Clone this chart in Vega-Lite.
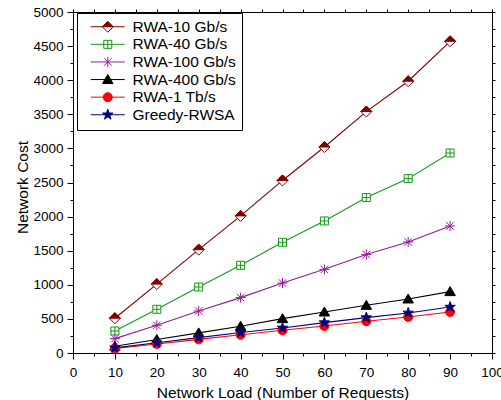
{
  "$schema": "https://vega.github.io/schema/vega-lite/v6.json",
  "width": 419,
  "height": 341,
  "autosize": {"type": "none"},
  "padding": {"left": 73, "top": 12, "right": 9, "bottom": 47},
  "background": "white",
  "config": {
    "view": {"stroke": null},
    "font": "Liberation Sans",
    "axis": {
      "domainColor": "#000000", "tickColor": "#000000", "labelColor": "#000000", "titleColor": "#000000",
      "labelFont": "Liberation Sans", "titleFont": "Liberation Sans",
      "labelFontSize": 13.5, "titleFontSize": 15.5, "titleFontWeight": "normal",
      "grid": false, "tickWidth": 1, "domainWidth": 1
    },
    "legend": {
      "orient": "none", "legendX": 4, "legendY": 1,
      "strokeColor": "#000000", "fillColor": "#ffffff", "cornerRadius": 0,
      "padding": 6, "rowPadding": 0.6, "symbolOffset": 17, "labelOffset": 17,
      "labelFont": "Liberation Sans", "labelFontSize": 15.5, "labelColor": "#000000", "labelLimit": 0,
      "symbolSize": 100, "symbolStrokeWidth": 1, "title": null
    },
    "point": {"size": 100, "strokeWidth": 1, "opacity": 1, "filled": true}
  },
  "data": {"values": [
    {"series": "RWA-10 Gb/s", "load": 10, "cost": 510},
    {"series": "RWA-10 Gb/s", "load": 20, "cost": 1010},
    {"series": "RWA-10 Gb/s", "load": 30, "cost": 1515},
    {"series": "RWA-10 Gb/s", "load": 40, "cost": 2010},
    {"series": "RWA-10 Gb/s", "load": 50, "cost": 2530},
    {"series": "RWA-10 Gb/s", "load": 60, "cost": 3020},
    {"series": "RWA-10 Gb/s", "load": 70, "cost": 3540},
    {"series": "RWA-10 Gb/s", "load": 80, "cost": 3985},
    {"series": "RWA-10 Gb/s", "load": 90, "cost": 4570},
    {"series": "RWA-40 Gb/s", "load": 10, "cost": 323},
    {"series": "RWA-40 Gb/s", "load": 20, "cost": 641},
    {"series": "RWA-40 Gb/s", "load": 30, "cost": 968},
    {"series": "RWA-40 Gb/s", "load": 40, "cost": 1286},
    {"series": "RWA-40 Gb/s", "load": 50, "cost": 1623},
    {"series": "RWA-40 Gb/s", "load": 60, "cost": 1936},
    {"series": "RWA-40 Gb/s", "load": 70, "cost": 2279},
    {"series": "RWA-40 Gb/s", "load": 80, "cost": 2557},
    {"series": "RWA-40 Gb/s", "load": 90, "cost": 2933},
    {"series": "RWA-100 Gb/s", "load": 10, "cost": 211},
    {"series": "RWA-100 Gb/s", "load": 20, "cost": 406},
    {"series": "RWA-100 Gb/s", "load": 30, "cost": 616},
    {"series": "RWA-100 Gb/s", "load": 40, "cost": 812},
    {"series": "RWA-100 Gb/s", "load": 50, "cost": 1026},
    {"series": "RWA-100 Gb/s", "load": 60, "cost": 1227},
    {"series": "RWA-100 Gb/s", "load": 70, "cost": 1443},
    {"series": "RWA-100 Gb/s", "load": 80, "cost": 1628},
    {"series": "RWA-100 Gb/s", "load": 90, "cost": 1862},
    {"series": "RWA-400 Gb/s", "load": 10, "cost": 100},
    {"series": "RWA-400 Gb/s", "load": 20, "cost": 198},
    {"series": "RWA-400 Gb/s", "load": 30, "cost": 295},
    {"series": "RWA-400 Gb/s", "load": 40, "cost": 392},
    {"series": "RWA-400 Gb/s", "load": 50, "cost": 504},
    {"series": "RWA-400 Gb/s", "load": 60, "cost": 601},
    {"series": "RWA-400 Gb/s", "load": 70, "cost": 699},
    {"series": "RWA-400 Gb/s", "load": 80, "cost": 792},
    {"series": "RWA-400 Gb/s", "load": 90, "cost": 900},
    {"series": "RWA-1 Tb/s", "load": 10, "cost": 67},
    {"series": "RWA-1 Tb/s", "load": 20, "cost": 133},
    {"series": "RWA-1 Tb/s", "load": 30, "cost": 200},
    {"series": "RWA-1 Tb/s", "load": 40, "cost": 267},
    {"series": "RWA-1 Tb/s", "load": 50, "cost": 333},
    {"series": "RWA-1 Tb/s", "load": 60, "cost": 396},
    {"series": "RWA-1 Tb/s", "load": 70, "cost": 465},
    {"series": "RWA-1 Tb/s", "load": 80, "cost": 528},
    {"series": "RWA-1 Tb/s", "load": 90, "cost": 601},
    {"series": "Greedy-RWSA", "load": 10, "cost": 75},
    {"series": "Greedy-RWSA", "load": 20, "cost": 150},
    {"series": "Greedy-RWSA", "load": 30, "cost": 225},
    {"series": "Greedy-RWSA", "load": 40, "cost": 300},
    {"series": "Greedy-RWSA", "load": 50, "cost": 367},
    {"series": "Greedy-RWSA", "load": 60, "cost": 446},
    {"series": "Greedy-RWSA", "load": 70, "cost": 519},
    {"series": "Greedy-RWSA", "load": 80, "cost": 587},
    {"series": "Greedy-RWSA", "load": 90, "cost": 674}
  ]},
  "layer": [
    {
      "mark": {"type": "line", "strokeWidth": 1.1},
      "encoding": {
        "x": {"field": "load", "type": "quantitative", "scale": {"domain": [0, 100], "nice": false},
          "axis": {"orient": "bottom", "values": [0,5,10,15,20,25,30,35,40,45,50,55,60,65,70,75,80,85,90,95,100],
            "labelExpr": "datum.value % 10 === 0 ? datum.label : ''",
            "tickSize": {"condition": {"test": "datum.value % 10 === 0", "value": 6}, "value": 3},
            "labelPadding": 6, "labelOverlap": false, "labelFlush": false,
            "title": "Network Load (Number of Requests)", "titlePadding": 7}},
        "y": {"field": "cost", "type": "quantitative", "scale": {"domain": [0, 5000], "nice": false},
          "axis": {"orient": "left", "values": [0,250,500,750,1000,1250,1500,1750,2000,2250,2500,2750,3000,3250,3500,3750,4000,4250,4500,4750,5000],
            "format": "d",
            "labelExpr": "datum.value % 500 === 0 ? datum.label : ''",
            "tickSize": {"condition": {"test": "datum.value % 500 === 0", "value": 6}, "value": 3},
            "labelPadding": 4, "labelOverlap": false, "labelFlush": false,
            "title": "Network Cost", "titlePadding": 2, "titleY": 175}},
        "stroke": {"field": "series", "type": "nominal",
          "scale": {"domain": ["RWA-10 Gb/s", "RWA-40 Gb/s", "RWA-100 Gb/s", "RWA-400 Gb/s", "RWA-1 Tb/s", "Greedy-RWSA"],
            "range": ["#800000", "#139a13", "#941b9b", "#000000", "#ff0000", "#000080"]},
          "legend": {"orient": "none", "legendX": 4, "legendY": 1, "title": null,
            "encoding": {"symbols": {
              "shape": {"value": {"expr": "datum.value === 'RWA-10 Gb/s' ? 'M-3.4,0L3.4,0M0,-1.1L1.1,0L0,1.1L-1.1,0Z' : datum.value === 'RWA-40 Gb/s' ? 'M-3.4,0L3.4,0M-0.8,-0.8L0.8,-0.8L0.8,0.8L-0.8,0.8ZM0,-0.8L0,0.8' : datum.value === 'RWA-100 Gb/s' ? 'M-3.4,0L3.4,0M0,-1L0,1M-0.75,-0.75L0.75,0.75M-0.75,0.75L0.75,-0.75' : datum.value === 'RWA-400 Gb/s' ? 'M-3.4,0L3.4,0M0,-1L1.05,0.8L-1.05,0.8Z' : datum.value === 'RWA-1 Tb/s' ? 'M-3.4,0L3.4,0M0.9,0A0.9,0.9 0 1,1 -0.9,0A0.9,0.9 0 1,1 0.9,0Z' : 'M-3.4,0L3.4,0M0,-1.1L0.259,-0.356L1.046,-0.34L0.418,0.136L0.647,0.89L0,0.44L-0.647,0.89L-0.418,0.136L-1.046,-0.34L-0.259,-0.356Z'"}},
              "fill": {"value": {"expr": "datum.value === 'RWA-10 Gb/s' ? {gradient: 'linear', x1: 0, y1: 0, x2: 0, y2: 1, stops: [{offset: 0, color: '#800000'}, {offset: 0.5, color: '#800000'}, {offset: 0.5, color: '#ffffff'}, {offset: 1, color: '#ffffff'}]} : datum.value === 'RWA-40 Gb/s' ? '#ffffff' : datum.value === 'RWA-100 Gb/s' ? '#ffffff' : datum.value === 'RWA-400 Gb/s' ? '#000000' : datum.value === 'RWA-1 Tb/s' ? '#ff0000' : '#000080'"}},
              "strokeWidth": {"value": 1}
            }}}}
      }
    },
    {
      "transform": [{"filter": "datum.series === 'RWA-10 Gb/s'"}],
      "mark": {"type": "point", "shape": "M0,-1.1L1.1,0L0,1.1L-1.1,0Z", "fill": "#ffffff", "stroke": "#800000"},
      "encoding": {
        "x": {"field": "load", "type": "quantitative",
          "axis": {"orient": "top", "values": [0,5,10,15,20,25,30,35,40,45,50,55,60,65,70,75,80,85,90,95,100],
            "labels": false, "tickSize": 3, "title": null}},
        "y": {"field": "cost", "type": "quantitative",
          "axis": {"orient": "right", "values": [0,250,500,750,1000,1250,1500,1750,2000,2250,2500,2750,3000,3250,3500,3750,4000,4250,4500,4750,5000],
            "labels": false, "tickSize": 3, "title": null}}
      }
    },
    {
      "transform": [{"filter": "datum.series === 'RWA-10 Gb/s'"}],
      "mark": {"type": "point", "shape": "M-1.1,0L0,-1.1L1.1,0Z", "fill": "#800000", "stroke": "#800000"},
      "encoding": {
        "x": {"field": "load", "type": "quantitative", "axis": null},
        "y": {"field": "cost", "type": "quantitative", "axis": null}
      }
    },
    {
      "transform": [{"filter": "datum.series === 'RWA-40 Gb/s'"}],
      "mark": {"type": "point", "shape": "M-0.8,-0.8L0.8,-0.8L0.8,0.8L-0.8,0.8ZM-0.8,0L0.8,0M0,-0.8L0,0.8", "fill": "#ffffff", "stroke": "#139a13"},
      "encoding": {
        "x": {"field": "load", "type": "quantitative", "axis": null},
        "y": {"field": "cost", "type": "quantitative", "axis": null}
      }
    },
    {
      "transform": [{"filter": "datum.series === 'RWA-100 Gb/s'"}],
      "mark": {"type": "point", "shape": "M-1,0L1,0M0,-1L0,1M-0.75,-0.75L0.75,0.75M-0.75,0.75L0.75,-0.75", "fill": "#941b9b", "stroke": "#941b9b"},
      "encoding": {
        "x": {"field": "load", "type": "quantitative", "axis": null},
        "y": {"field": "cost", "type": "quantitative", "axis": null}
      }
    },
    {
      "transform": [{"filter": "datum.series === 'RWA-400 Gb/s'"}],
      "mark": {"type": "point", "shape": "M0,-1L1.05,0.8L-1.05,0.8Z", "fill": "#000000", "stroke": "#000000"},
      "encoding": {
        "x": {"field": "load", "type": "quantitative", "axis": null},
        "y": {"field": "cost", "type": "quantitative", "axis": null}
      }
    },
    {
      "transform": [{"filter": "datum.series === 'RWA-1 Tb/s'"}],
      "mark": {"type": "point", "shape": "M0.9,0A0.9,0.9 0 1,1 -0.9,0A0.9,0.9 0 1,1 0.9,0Z", "fill": "#ff0000", "stroke": "#ff0000"},
      "encoding": {
        "x": {"field": "load", "type": "quantitative", "axis": null},
        "y": {"field": "cost", "type": "quantitative", "axis": null}
      }
    },
    {
      "transform": [{"filter": "datum.series === 'Greedy-RWSA'"}],
      "mark": {"type": "point", "shape": "M0,-1.1L0.259,-0.356L1.046,-0.34L0.418,0.136L0.647,0.89L0,0.44L-0.647,0.89L-0.418,0.136L-1.046,-0.34L-0.259,-0.356Z", "fill": "#000080", "stroke": "#000080"},
      "encoding": {
        "x": {"field": "load", "type": "quantitative", "axis": null},
        "y": {"field": "cost", "type": "quantitative", "axis": null}
      }
    }
  ],
  "resolve": {"axis": {"x": "independent", "y": "independent"}}
}
